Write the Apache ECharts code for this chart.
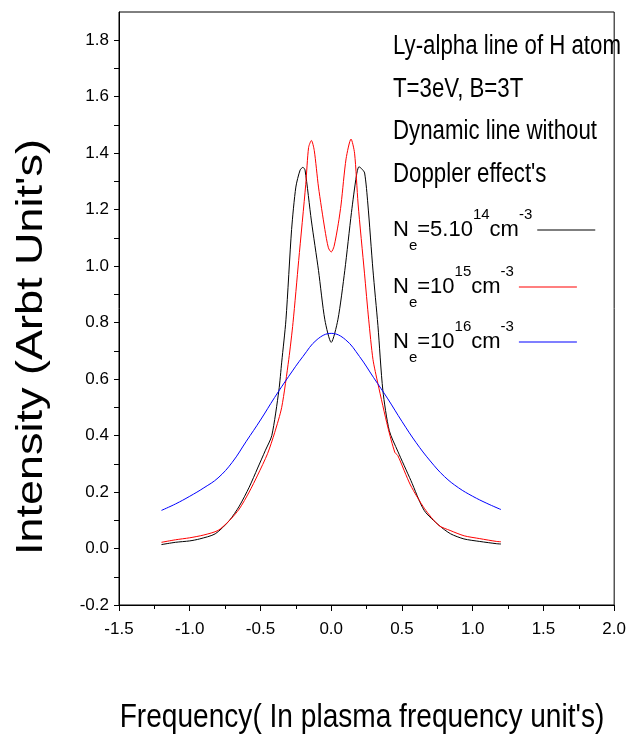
<!DOCTYPE html>
<html><head><meta charset="utf-8">
<script src="https://cdn.jsdelivr.net/npm/echarts@6/dist/echarts.min.js"></script>
<style>html,body{margin:0;padding:0;background:#fff}#c{width:629px;height:749px}</style>
</head><body><div id="c"></div>
<script>
// ---- data ----
const xBlack = [-1.20,-1.10,-1.00,-0.93,-0.82,-0.72,-0.65,-0.58,-0.52,-0.465,-0.42,-0.37,-0.35,-0.32,-0.28,-0.25,-0.22,-0.20,-0.185,-0.14,-0.09,-0.045,0.00,0.047,0.096,0.143,0.178,0.196,0.215,0.236,0.259,0.295,0.33,0.365,0.41,0.47,0.563,0.657,0.762,0.844,0.938,1.05,1.17,1.20];
const yBlack = [0.014,0.022,0.027,0.034,0.052,0.099,0.150,0.217,0.285,0.348,0.400,0.560,0.660,0.810,1.130,1.280,1.340,1.350,1.340,1.160,0.985,0.810,0.730,0.810,0.985,1.190,1.320,1.352,1.345,1.330,1.220,0.986,0.790,0.560,0.418,0.345,0.241,0.135,0.082,0.052,0.034,0.025,0.017,0.016];
const xRed = [-1.20,-1.10,-1.00,-0.90,-0.80,-0.72,-0.65,-0.58,-0.52,-0.45,-0.40,-0.35,-0.30,-0.27,-0.23,-0.18,-0.16,-0.14,-0.12,-0.09,-0.045,-0.02,0.00,0.02,0.05,0.07,0.105,0.14,0.165,0.19,0.235,0.265,0.295,0.33,0.40,0.45,0.47,0.56,0.66,0.76,0.84,0.94,1.05,1.17,1.20];
const yRed = [0.022,0.031,0.038,0.048,0.064,0.099,0.140,0.200,0.260,0.336,0.410,0.500,0.670,0.800,1.020,1.290,1.420,1.445,1.410,1.280,1.130,1.065,1.050,1.070,1.150,1.220,1.380,1.450,1.400,1.220,0.975,0.810,0.670,0.584,0.430,0.340,0.330,0.225,0.141,0.082,0.064,0.045,0.035,0.025,0.024];
const xBlue = [-1.2,-1.1,-1.0,-0.9,-0.8,-0.7,-0.6,-0.5,-0.4,-0.3,-0.2,-0.1,0.0,0.1,0.2,0.3,0.4,0.5,0.6,0.7,0.8,0.9,1.0,1.1,1.2];
const yBlue = [0.135,0.158,0.185,0.215,0.250,0.305,0.380,0.455,0.535,0.610,0.680,0.740,0.762,0.740,0.680,0.605,0.530,0.450,0.375,0.310,0.255,0.215,0.185,0.160,0.138];
const seriesNames = ['Ne5e14','Ne1e15','Ne1e16'];
const seriesColors = ['#000000','#ff0000','#0000ff'];
const legendLabels = [
  '{n|N}{s|e}{n|=5.10}{p|14}{n|cm}{p|-3}',
  '{n|N}{s|e}{n|=10}{p|15}{n|cm}{p|-3}',
  '{n|N}{s|e}{n|=10}{p|16}{n|cm}{p|-3}'
];
const noteLines = ['Ly-alpha line of H atom','T=3eV, B=3T','Dynamic line without','Doppler effect\'s'];
const yTicks = [-0.2,0.0,0.2,0.4,0.6,0.8,1.0,1.2,1.4,1.6,1.8];
const xTitle = 'Frequency( In plasma frequency unit\'s)';
const yTitle = 'Intensity (Arbt Unit\'s)';

const FONT = "'Liberation Sans', Arial, sans-serif";
const pair = (xs, ys) => xs.map((x, i) => [x, ys[i]]);

const chart = echarts.init(document.getElementById('c'), null, {renderer: 'canvas'});
const fmtY = v => {
  const t = yTicks.find(t => Math.abs(t - v) < 1e-6);
  return t === undefined ? '' : t.toFixed(1);
};
const noteY = [47, 90, 132, 175];
const legendTop = [207, 264, 319];
const legends = seriesNames.map((nm, i) => ({
  show: true, orient: 'vertical', left: 393, top: legendTop[i], align: 'right', padding: 0,
  itemWidth: 58, itemHeight: 1, itemGap: 0, icon: 'rect', selectedMode: false,
  data: [nm],
  formatter: () => legendLabels[i],
  textStyle: {
    color: '#000', fontFamily: FONT, lineHeight: 46,
    rich: {
      n: {fontSize: 22, fontFamily: FONT, color: '#000', lineHeight: 46},
      s: {fontSize: 15, fontFamily: FONT, color: '#000', verticalAlign: 'bottom', lineHeight: 15},
      p: {fontSize: 15, fontFamily: FONT, color: '#000', verticalAlign: 'top', lineHeight: 19}
    }
  }
}));
chart.setOption({
  animation: false,
  backgroundColor: '#fff',
  grid: {left: 119, right: 11, top: 12, bottom: 144, show: true, borderColor: '#000', borderWidth: 1, backgroundColor: 'transparent'},
  xAxis: {
    type: 'value', min: -1.5, max: 2.0, interval: 0.5,
    axisLine: {show: true, onZero: false, lineStyle: {color: '#000', width: 1}},
    axisTick: {show: true, inside: false, length: 6, lineStyle: {color: '#000'}},
    minorTick: {show: true, splitNumber: 2, length: 4, lineStyle: {color: '#000'}},
    splitLine: {show: false},
    axisLabel: {color: '#000', fontSize: 17, fontFamily: FONT, margin: 16, formatter: v => v.toFixed(1)}
  },
  yAxis: {
    type: 'value', min: -0.2, max: 1.9, interval: 0.1,
    axisLine: {show: true, onZero: false, lineStyle: {color: '#000', width: 1}},
    axisTick: {show: true, inside: false, length: 5, lineStyle: {color: '#000'}},
    splitLine: {show: false},
    axisLabel: {color: '#000', fontSize: 17, fontFamily: FONT, margin: 10, formatter: fmtY, showMaxLabel: false}
  },
  legend: legends,
  graphic: noteLines.map((t, i) => ({
    type: 'text', x: 393, y: noteY[i], scaleX: 0.824, silent: true,
    style: {text: t, fill: '#000', font: "27px " + FONT, align: 'left', verticalAlign: 'middle'}
  })).concat([
    {type: 'text', x: 362, y: 718, scaleX: 0.826, silent: true,
     style: {text: xTitle, fill: '#000', font: "34px " + FONT, align: 'center', verticalAlign: 'middle'}},
    {type: 'text', x: 32, y: 347, rotation: Math.PI / 2, scaleX: 1.25, silent: true,
     style: {text: yTitle, fill: '#000', font: "36px " + FONT, align: 'center', verticalAlign: 'middle'}}
  ]),
  series: seriesNames.map((nm, i) => ({
    name: nm, type: 'line', showSymbol: false,
    data: [pair(xBlack, yBlack), pair(xRed, yRed), pair(xBlue, yBlue)][i],
    smooth: i === 2 ? 0.4 : 0.25,
    lineStyle: {color: seriesColors[i], width: 1}, itemStyle: {color: seriesColors[i]}
  }))
});
</script></body></html>
